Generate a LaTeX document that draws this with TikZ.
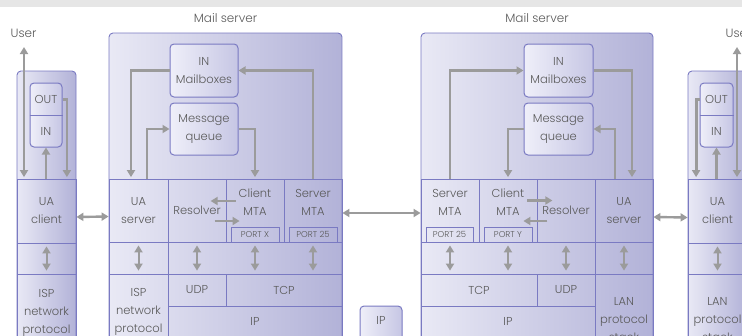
\documentclass[tikz,border=0pt]{standalone}
\usepackage{fontspec}
\setmainfont{Poppins}[UprightFont=* Light]
\usetikzlibrary{arrows.meta}
\definecolor{framecolor}{HTML}{7A7AC2}
\definecolor{shadelight}{HTML}{E9E9F5}
\definecolor{shadedark}{HTML}{B2B2D8}
\definecolor{smalllight}{HTML}{EFEFF9}
\definecolor{smalldark}{HTML}{C6C6E4}
\definecolor{arrowgray}{HTML}{9B9B9B}
\definecolor{textgray}{HTML}{5A5A5A}
\definecolor{bandgray}{HTML}{E6E6E6}
\newcommand{\layerfont}{\fontsize{11.5}{18}\selectfont}
\newcommand{\portfont}{\fontsize{8.5}{10}\selectfont}
\newcommand{\headfont}{\fontsize{12}{14}\selectfont}
\begin{document}
\begin{tikzpicture}
[x=1pt,y=-1pt,
  framedecorate/.style={draw=framecolor,line width=0.9pt,rounded corners=4pt,left color=shadelight,right color=shadedark},%
  celldecorate/.style={draw=framecolor,line width=0.8pt,align=center,inner sep=1pt,font=\layerfont,text=textgray},%
  boxdecorate/.style={draw=framecolor,line width=1pt,rounded corners=4pt,left color=smalllight,right color=smalldark,align=center,inner sep=0pt,font=\layerfont,text=textgray},%
  portdecorate/.style={draw=framecolor,line width=0.9pt,inner sep=0pt,font=\portfont,text=textgray},%
  textdecorate/.style={align=center,inner sep=0pt,font=\layerfont,text=textgray},%
  headdecorate/.style={inner sep=2pt,font=\headfont,text=textgray},%
  arrowdecorate/.style={draw=arrowgray,line width=2.8pt,-{Triangle[length=7pt,width=8pt]}},%
  bothdecorate/.style={draw=arrowgray,line width=2.4pt,{Triangle[length=7pt,width=8pt]}-{Triangle[length=7pt,width=8pt]}}]
\useasboundingbox (0,0) rectangle (742,335);
\fill[bandgray] (0,0) rectangle (742,7);
%% outer frames
\foreach \nodename/\x/\y/\w/\h in {
  usr1/46.5/220.5/59/299, srv1/225.5/201.5/233/337,
  srv2/537/201.5/232/337, usr2/717.5/220.5/59/299} {
  \node (\nodename) at (\x,\y) [framedecorate,minimum width=\w pt,minimum height=\h pt] {};
}
\node (ipmid) at (381,338) [boxdecorate,minimum width=42pt,minimum height=64pt] {};
\node (iptext) at (381,320) [textdecorate] {IP};
%% titles
\node (title1) at (225.5,18) [headdecorate] {Mail server};
\node (title2) at (537,18) [headdecorate] {Mail server};
\node (user1) at (23.5,33) [headdecorate] {User};
\node (user2) at (738.5,33) [headdecorate] {User};
\coordinate (usertip1) at (24,47);
\coordinate (usertip2) at (737,47);
%% layer cells
\foreach \nodename/\x/\y/\w/\h/\nodetext in {
  uac1/46.5/211/59/64/{UA\\client}, aru1/46.5/258.5/59/31/{},
  isp0/46.5/312.5/59/77/{ISP\\network\\protocol},
  uas1/138.5/210.5/59/63/{UA\\server}, res1/197/210.5/58/63/{Resolver},
  ar1/138.5/258/59/32/{}, br1/255/258/174/32/{},
  isp1/138.5/312/59/76/{ISP\\network\\protocol},
  udp1/197/290/58/32/{UDP}, tcp1/284/290/116/32/{TCP}, ip1/255/321/174/30/{IP},
  res2/566/210.5/58/63/{Resolver}, uas2/624/210.5/58/63/{UA\\server},
  br2/508/258/174/32/{}, ar2/624/258/58/32/{},
  tcp2/479/290/116/32/{TCP}, udp2/566/290/58/32/{UDP}, ip2/508/321/174/30/{IP},
  lan2/624/320/58/92/{LAN\\protocol\\stack},
  uac2/717.5/211/59/64/{UA\\client}, aru2/717.5/258.5/59/31/{},
  lan3/717.5/320/59/92/{LAN\\protocol\\stack}} {
  \node (\nodename) at (\x,\y) [celldecorate,minimum width=\w pt,minimum height=\h pt] {\nodetext};
}
%% MTA cells, text sits above the port
\foreach \nodename/\x/\nodetext in {
  cmta1/255/{Client\\MTA}, smta1/313/{Server\\MTA},
  smta2/450/{Server\\MTA}, cmta2/508/{Client\\MTA}} {
  \node (\nodename) at (\x,210.5) [celldecorate,minimum width=58pt,minimum height=63pt] {};
  \node (\nodename-t) at ([yshift=8.5pt]\nodename.center) [textdecorate] {\nodetext};
}
\foreach \nodename/\x/\w/\nodetext in {
  portx1/255/48/{PORT X}, port25a/313/48/{PORT 25},
  port25b/449.5/47/{PORT 25}, porty2/508/48/{PORT Y}} {
  \node (\nodename) at (\x,234.5) [portdecorate,minimum width=\w pt,minimum height=15pt] {\nodetext};
}
%% mailboxes and queues
\node (inmb1) at (204,70.5) [boxdecorate,minimum width=68pt,minimum height=53pt] {IN\\Mailboxes};
\node (mq1) at (204,129) [boxdecorate,minimum width=68pt,minimum height=52pt] {Message\\queue};
\node (inmb2) at (558.5,70.5) [boxdecorate,minimum width=69pt,minimum height=53pt] {IN\\Mailboxes};
\node (mq2) at (558.5,129) [boxdecorate,minimum width=69pt,minimum height=52pt] {Message\\queue};
%% user OUT / IN folders
\node (box1) at (46,115) [boxdecorate,minimum width=32pt,minimum height=64pt] {};
\node (box2) at (716.5,115) [boxdecorate,minimum width=33pt,minimum height=64pt] {};
\draw[framecolor,line width=0.9pt] (box1.west) -- (box1.east) (box2.west) -- (box2.east);
\node (out1) at (46,99.5) [textdecorate] {OUT};
\node (in1) at (46,131.5) [textdecorate] {IN};
\node (out2) at (716.5,99.5) [textdecorate] {OUT};
\node (in2) at (716.5,131.5) [textdecorate] {IN};
%% arrows
\draw[arrowdecorate,shorten >=1.5pt] (inmb1.west) -| ([xshift=-7.5pt]uas1.north);
\draw[arrowdecorate] ([xshift=8.5pt]uas1.north) |- (mq1.west);
\draw[arrowdecorate,shorten >=1.5pt] (mq1.east) -| (cmta1.north);
\draw[arrowdecorate] (smta1.north) |- (inmb1.east);
\draw[arrowdecorate] (smta2.north) |- (inmb2.west);
\draw[arrowdecorate,shorten >=1.5pt] (inmb2.east) -| ([xshift=8pt]uas2.north);
\draw[arrowdecorate,shorten >=1.5pt] (mq2.west) -| (cmta2.north);
\draw[arrowdecorate] ([xshift=-9pt]uas2.north) |- (mq2.east);
\draw[arrowdecorate] ([shift={(10pt,9.5pt)}]cmta1.west) -- ([shift={(-15pt,9.5pt)}]cmta1.west);
\draw[arrowdecorate] ([shift={(-11pt,-10.5pt)}]cmta1.west) -- ([shift={(14pt,-10.5pt)}]cmta1.west);
\draw[arrowdecorate] ([shift={(-10pt,10pt)}]cmta2.east) -- ([shift={(15pt,10pt)}]cmta2.east);
\draw[arrowdecorate] ([shift={(10pt,-10.5pt)}]cmta2.east) -- ([shift={(-14pt,-10.5pt)}]cmta2.east);
\draw[arrowdecorate,shorten >=1.5pt] (box1.east |- out1) -| ([xshift=-9.5pt]uac1.north east);
\draw[arrowdecorate] (uac1.north -| box1.south) -- (box1.south);
\draw[arrowdecorate,shorten >=1.5pt] (box2.west |- out2) -| ([xshift=8.5pt]uac2.north west);
\draw[arrowdecorate] (uac2.north -| box2.south) -- (box2.south);
\draw[bothdecorate,shorten >=1.5pt] (usertip1) -- (usertip1 |- uac1.north);
\draw[bothdecorate,shorten >=1.5pt] (usertip2) -- (usertip2 |- uac2.north);
\draw[bothdecorate] ([yshift=-6pt]uac1.east) -- ([yshift=-6pt]uas1.west);
\draw[bothdecorate] ([yshift=-2.5pt]smta1.east) -- ([yshift=-2.5pt]smta2.west);
\draw[bothdecorate] ([yshift=-6.5pt]uas2.east) -- ([yshift=-6.5pt]uac2.west);
\path
\foreach \startnode/\endnode in {uac1/isp0, uas1/isp1, res1/udp1, cmta1/tcp1,
  smta1/tcp1, smta2/tcp2, cmta2/tcp2, res2/udp2, uas2/lan2, uac2/lan3} {
  (\startnode.south) edge[bothdecorate,line width=2pt,shorten <=3pt,shorten >=3pt] (\startnode.south |- \endnode.north)
};
\end{tikzpicture}
\end{document}
